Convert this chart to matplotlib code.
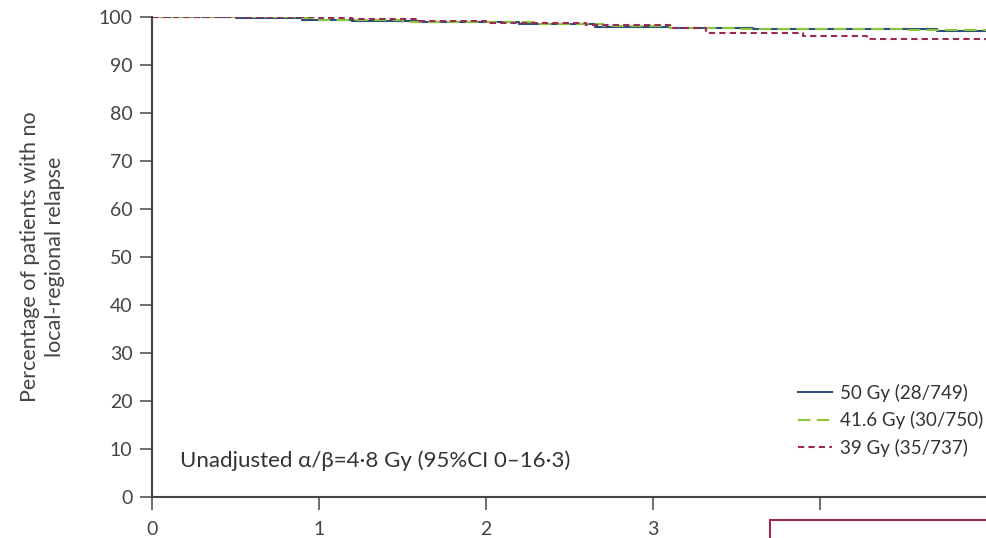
import matplotlib
matplotlib.use("Agg")
import matplotlib.pyplot as plt
from matplotlib.patches import Rectangle

plt.rcParams['font.family'] = ['Lato', 'DejaVu Sans']

# Kaplan-Meier step data (years, % free of relapse)
t_50 = [0, 0.5, 0.9, 1.2, 1.6, 2.2, 2.65, 3.1, 3.6, 4.7, 5.0]
s_50 = [100, 99.7, 99.4, 99.1, 98.9, 98.6, 98.0, 97.7, 97.4, 97.0, 97.0]
t_416 = [0, 0.9, 1.0, 1.5, 2.3, 2.7, 3.1, 3.5, 4.5, 5.0]
s_416 = [100, 99.7, 99.4, 99.0, 98.6, 98.1, 97.8, 97.5, 97.2, 97.2]
t_39 = [0, 1.0, 1.2, 1.6, 2.0, 2.6, 3.1, 3.32, 3.9, 4.28, 5.0]
s_39 = [100, 99.8, 99.5, 99.2, 98.8, 98.3, 97.7, 96.7, 96.1, 95.4, 95.4]

labels = ["50 Gy (28/749)", "41.6 Gy (30/750)", "39 Gy (35/737)"]
x_ticks = [0, 1, 2, 3, 4]
y_ticks = list(range(0, 101, 10))

fig = plt.figure(figsize=(9.87, 5.38), dpi=100)
ax = fig.add_axes([152 / 987, 1 - 497 / 538, 1 - 152 / 987, (497 - 17) / 538])

ax.step(t_50, s_50, where='post', color='#2b4f7a', lw=1.5, label=labels[0])
ax.step(t_416, s_416, where='post', color='#8cc63e', lw=1.5, dashes=(6, 3), label=labels[1])
ax.step(t_39, s_39, where='post', color='#9b2a55', lw=1.5, dashes=(3, 2), label=labels[2])

ax.set_xlim(0, 5)
ax.set_ylim(0, 100)
ax.set_xticks(x_ticks)
ax.set_yticks(y_ticks)
ax.spines['top'].set_visible(False)
ax.spines['right'].set_visible(False)
for sp in ['left', 'bottom']:
    ax.spines[sp].set_color('#444444')
    ax.spines[sp].set_linewidth(1.5)
ax.tick_params(direction='out', length=9, width=1.2, color='#555555',
               labelsize=14, labelcolor='#444444', pad=5)
ax.tick_params(axis='x', pad=8)

ax.set_ylabel("Percentage of patients with no\nlocal-regional relapse",
              fontsize=15.5, color='#444444', labelpad=24, linespacing=1.3)

ax.text(0.17, 7.5, "Unadjusted α/β=4·8 Gy (95%CI 0–16·3)", fontsize=16,
        color='#333333', va='center')

leg = ax.legend(loc='lower right', bbox_to_anchor=(1.005, 0.068), frameon=False,
                fontsize=13.5, handlelength=1.8, labelspacing=0.5,
                handletextpad=0.45, borderaxespad=0)
for txt in leg.get_texts():
    txt.set_color('#333333')

# start of the numbers-at-risk box, cut off by the crop
fig.patches.append(Rectangle((770 / 987, -0.05), 0.3, 0.05 + (538 - 520) / 538,
                             transform=fig.transFigure, facecolor='white',
                             edgecolor='#9b2a55', lw=1.5, zorder=10))

fig.savefig('out.png', dpi=100)
